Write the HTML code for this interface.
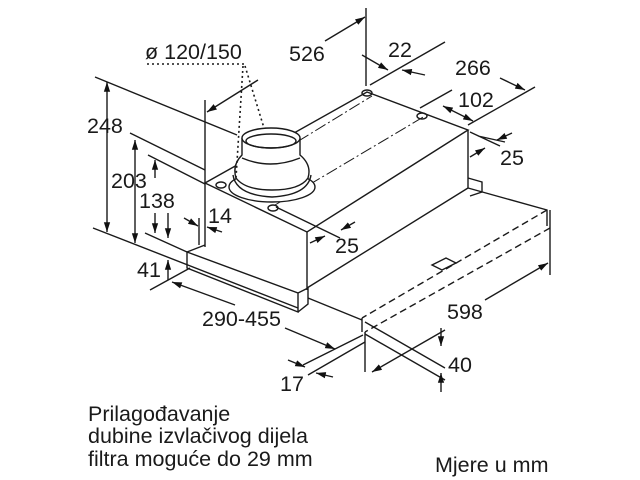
<!DOCTYPE html>
<html><head><meta charset="utf-8"><style>
html,body{margin:0;padding:0;background:#fff;}
svg{display:block;}
text{font-family:"Liberation Sans",sans-serif;font-size:21.5px;fill:#1a1a1a;}
.t{font-size:21.5px;}
</style></head><body>
<svg width="640" height="480" viewBox="0 0 640 480" xmlns="http://www.w3.org/2000/svg">
<defs>
<marker id="a" viewBox="0 0 14 10" refX="14" refY="5" markerWidth="10" markerHeight="7" markerUnits="userSpaceOnUse" orient="auto-start-reverse"><path d="M0,0.5 L14,5 L0,9.5z" fill="#111"/></marker>
</defs>
<g stroke="#1a1a1a" stroke-width="1.4" fill="none">
<!-- box -->
<path d="M205,183 L307,232 L468,130 L367,92 Z" fill="#fff"/>
<path d="M205,183 L205,247 M307,232 L307,290 M468,130 L468,188 M307,288 L468,188"/>
<!-- tab -->
<path d="M468,178 L482,182 L482,192 L470,196"/>
<!-- filter slab -->
<path d="M187,252 L298,293 L298,312 L187,268 Z M298,293 L308,288 L308,304 L298,312 M187,252 L205,245"/>
<path d="M308,298 L362,320"/>
<!-- drawer -->
<path d="M468,188 L547,210 L547,226"/>
<path d="M547,210 L362,318 M550,228 L365,332" stroke-dasharray="7,4"/>
<path d="M362,318 L362,332 M550,210 L550,275 M365,332 L365,372"/>
<path d="M432,265 L446,258 L456,263 L442,270 Z"/>
<!-- center lines -->
<path d="M230,183 L372,96 M275,205 L425,116" stroke-dasharray="12,3,2,3" stroke-width="1"/>
<!-- holes -->
<ellipse cx="221" cy="185" rx="5" ry="3"/><ellipse cx="273" cy="208" rx="5" ry="3"/>
<ellipse cx="367" cy="93" rx="5" ry="3"/><ellipse cx="422" cy="116" rx="5" ry="3"/>
<!-- duct -->
<ellipse cx="272" cy="187" rx="43" ry="15" fill="#fff"/>
<path d="M233,175 Q236,195 272,197 Q308,195 311,175" />
<path d="M242,138 L242,155 Q232,165 236,178 Q245,190 272,190 Q300,190 308,178 Q312,165 300,155 L300,138" fill="#fff"/>
<ellipse cx="271" cy="138" rx="29" ry="10" fill="#fff"/>
<ellipse cx="271" cy="141" rx="25" ry="7"/>
<path d="M242,158 Q270,170 300,158"/>
<!-- dotted leader -->
<path d="M147,64 L245,64 M243,66 L236,178 M245,66 L264,128" stroke-dasharray="2,3" stroke-width="1.6"/>
<!-- 526 -->
<path d="M205,100 L205,183 M366,8 L366,86"/>
<path d="M258,80 L207,112" marker-end="url(#a)"/>
<path d="M325,41 L365,17" marker-end="url(#a)"/>
<!-- 22 -->
<path d="M370,85 L445,42"/>
<path d="M362,55 L388,70" marker-end="url(#a)"/><path d="M425,75 L402,70" marker-end="url(#a)"/>
<!-- 266 -->
<path d="M468,125 L535,87"/>
<path d="M500,78 L525,90" marker-end="url(#a)"/>
<!-- 102 -->
<path d="M420,108 L452,90"/>
<path d="M443,106 L473,121" marker-start="url(#a)" marker-end="url(#a)"/>
<!-- 25 right -->
<path d="M470,132 L500,146 M478,136 L505,142"/>
<path d="M512,133 L497,140" marker-end="url(#a)"/><path d="M470,157 L485,148" marker-end="url(#a)"/>
<!-- 25 mid -->
<path d="M276,207 L340,238"/>
<path d="M355,222 L341,230" marker-end="url(#a)"/><path d="M310,243 L325,236" marker-end="url(#a)"/>
<!-- 14 -->
<path d="M199,218 L199,245"/>
<path d="M184,218 L198,226" marker-end="url(#a)"/><path d="M222,232 L207,227" marker-end="url(#a)"/>
<!-- 248 -->
<path d="M95,77 L237,135 M93,228 L298,308"/>
<path d="M107,82 L107,232" marker-start="url(#a)" marker-end="url(#a)"/>
<!-- 203 -->
<path d="M130,133 L205,170"/>
<path d="M135,140 L135,243" marker-start="url(#a)" marker-end="url(#a)"/>
<!-- 138 -->
<path d="M148,155 L205,184 M145,233 L187,252"/>
<path d="M155,178 L155,160" marker-end="url(#a)"/>
<path d="M155,213 L155,233" marker-end="url(#a)"/><path d="M168,213 L168,238" marker-end="url(#a)"/>
<!-- 41 -->
<path d="M168,280 L168,260" marker-end="url(#a)"/>
<path d="M150,290 L190,268"/>
<!-- 290-455 -->
<path d="M235,305 L172,282" marker-end="url(#a)"/>
<path d="M285,328 L335,349" marker-end="url(#a)"/>
<!-- 17 -->
<path d="M303,365 L363,335 M308,375 L365,342"/>
<path d="M288,360 L305,367" marker-end="url(#a)"/><path d="M333,377 L316,373" marker-end="url(#a)"/>
<!-- 40 -->
<path d="M365,322 L445,368 M365,334 L445,380"/>
<path d="M441,328 L441,346" marker-end="url(#a)"/><path d="M441,392 L441,373" marker-end="url(#a)"/>
<!-- 598 -->
<path d="M445,330 L372,372" marker-end="url(#a)"/>
<path d="M485,300 L548,263" marker-end="url(#a)"/>
</g>
<g>
<text x="145" y="59">ø 120/150</text>
<text x="289" y="61">526</text>
<text x="388" y="57">22</text>
<text x="455" y="75">266</text>
<text x="458" y="107">102</text>
<text x="500" y="165">25</text>
<text x="335" y="253">25</text>
<text x="208" y="223">14</text>
<text x="87" y="133">248</text>
<text x="111" y="188">203</text>
<text x="139" y="208">138</text>
<text x="137" y="277">41</text>
<text x="202" y="326">290-455</text>
<text x="447" y="319">598</text>
<text x="448" y="372">40</text>
<text x="280" y="391">17</text>
<text class="t" x="88" y="421">Prilagođavanje</text>
<text class="t" x="88" y="443">dubine izvlačivog dijela</text>
<text class="t" x="88" y="466">filtra moguće do 29 mm</text>
<text class="t" x="435" y="472">Mjere u mm</text>
</g>
</svg>
</body></html>
